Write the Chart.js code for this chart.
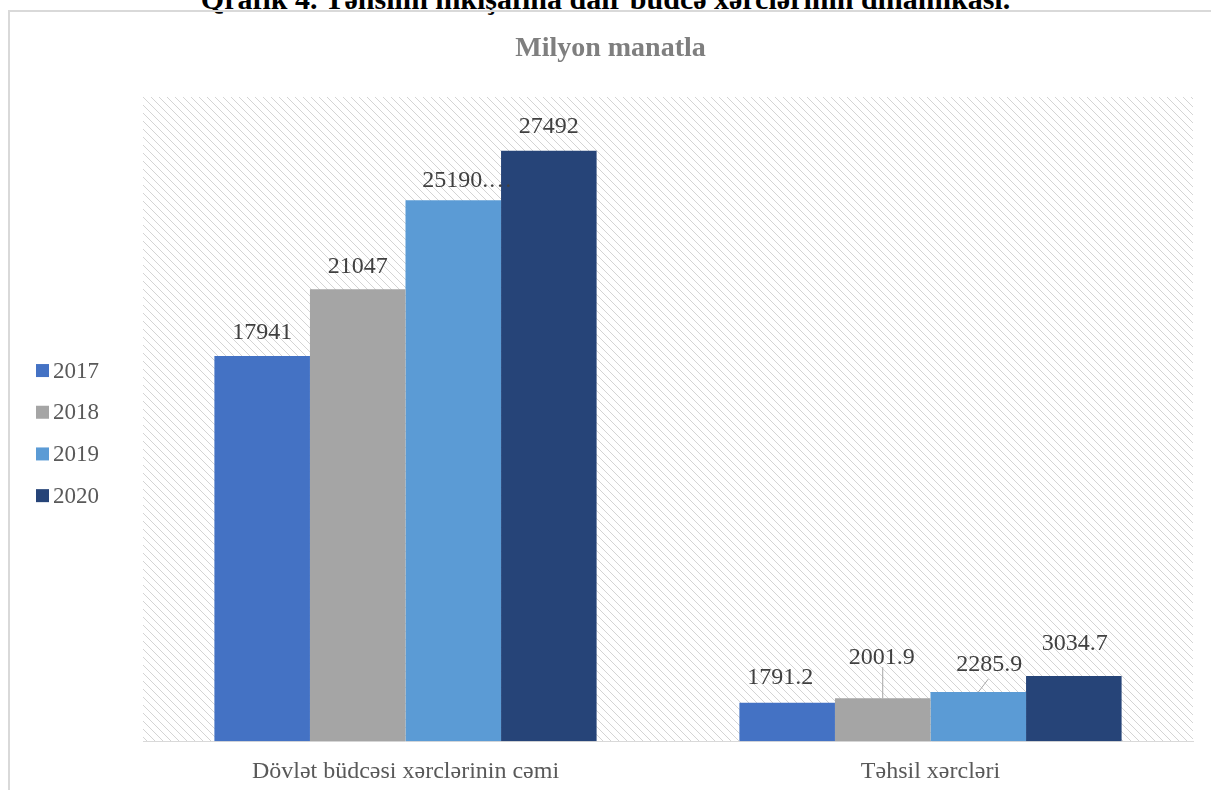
<!DOCTYPE html>
<html>
<head>
<meta charset="utf-8">
<script src="https://cdn.jsdelivr.net/npm/chart.js@4.4.1/dist/chart.umd.min.js"></script>
<style>
  body { margin: 0; background: #fff; width: 1211px; height: 790px; overflow: hidden; position: relative; }
  #heading { position: absolute; left: 0; width: 1211px; top: -16px; text-align: center;
    font: bold 30px/30px "Liberation Serif", serif; color: #000; white-space: nowrap; }
  #box { position: absolute; left: 8px; top: 10px; width: 1203px; height: 800px;
    border-top: 2px solid #d9d9d9; border-left: 2px solid #d9d9d9; }
  canvas { display: block; }
</style>
</head>
<body>
<div id="heading">Qrafik 4. Təhsilin inkişafına dair büdcə xərclərinin dinamikası.</div>
<div id="box"><canvas id="myChart" width="1201" height="782"></canvas></div>
<script>
// data
const chartTitle = 'Milyon manatla';
const categories = ['Dövlət büdcəsi xərclərinin cəmi', 'Təhsil xərcləri'];
const years = ['2017', '2018', '2019', '2020'];
const v2017 = [17941, 1791.2];
const v2018 = [21047, 2001.9];
const v2019 = [25190.8, 2285.9];
const v2020 = [27492, 3034.7];
const shownLabels = [
    ['17941', '1791.2'],
    ['21047', '2001.9'],
    ['25190.…', '2285.9'],
    ['27492', '3034.7']
];
const colors = ['#4472C4', '#A5A5A5', '#5B9BD5', '#264478'];

const serif = '"Liberation Serif", serif';

// hatched plot background
function hatch() {
    const c = document.createElement('canvas');
    c.width = 8; c.height = 8;
    const g = c.getContext('2d');
    g.strokeStyle = '#d4d4d4';
    g.lineWidth = 1;
    g.beginPath();
    g.moveTo(-1, -1); g.lineTo(9, 9);
    g.moveTo(-1, 7); g.lineTo(1, 9);
    g.moveTo(7, -1); g.lineTo(9, 1);
    g.stroke();
    return g.createPattern(c, 'repeat');
}

const backdrop = {
    id: 'backdrop',
    beforeDraw(chart) {
        const {ctx, chartArea: a} = chart;
        ctx.save();
        ctx.fillStyle = hatch();
        ctx.fillRect(a.left, a.top, a.right - a.left, a.bottom - a.top);
        ctx.restore();
    }
};

// title centred on the whole chart box, not on the padded area
const topTitle = {
    id: 'topTitle',
    afterDraw(chart) {
        const ctx = chart.ctx;
        ctx.save();
        ctx.font = 'bold 28px ' + serif;
        ctx.fillStyle = '#7f7f7f';
        ctx.textAlign = 'center';
        ctx.textBaseline = 'middle';
        ctx.fillText(chartTitle, chart.width / 2, 37);
        ctx.restore();
    }
};

// legend on the left, box close to the text like in Excel
const sideLegend = {
    id: 'sideLegend',
    afterDraw(chart) {
        const {ctx, chartArea: a} = chart;
        const mid = (a.top + a.bottom) / 2 + 14;
        ctx.save();
        ctx.font = '23px ' + serif;
        ctx.textBaseline = 'middle';
        ctx.textAlign = 'left';
        chart.data.datasets.forEach((ds, i) => {
            const y = mid + (i - 1.5) * 41.7;
            ctx.fillStyle = ds.backgroundColor;
            ctx.fillRect(26, y - 6.5, 13, 13);
            ctx.fillStyle = '#595959';
            ctx.fillText(ds.label, 43, y + 1);
        });
        ctx.restore();
    }
};

// value labels, two of them moved with a leader line
const barLabels = {
    id: 'barLabels',
    afterDatasetsDraw(chart) {
        const ctx = chart.ctx;
        const moved = {
            '0-1': [-7, -25], '1-1': [-1, -41], '2-1': [11, -27], '3-1': [1, -32],
            '2-0': [14, -20], '3-0': [0, -24]
        };
        ctx.save();
        ctx.font = '24px ' + serif;
        ctx.fillStyle = '#404040';
        ctx.textAlign = 'center';
        ctx.textBaseline = 'middle';
        chart.data.datasets.forEach((ds, i) => {
            chart.getDatasetMeta(i).data.forEach((bar, j) => {
                const off = moved[i + '-' + j] || [0, -23];
                const x = bar.x + off[0], y = bar.y + off[1];
                ctx.fillText(shownLabels[i][j], x, y);
                ctx.strokeStyle = '#a6a6a6';
                ctx.lineWidth = 1;
                if (i === 1 && j === 1) {
                    ctx.beginPath();
                    ctx.moveTo(bar.x, y + 10);
                    ctx.lineTo(bar.x, bar.y);
                    ctx.stroke();
                }
                if (i === 2 && j === 1) {
                    ctx.beginPath();
                    ctx.moveTo(x - 1, y + 14);
                    ctx.lineTo(bar.x, bar.y);
                    ctx.stroke();
                }
            });
        });
        ctx.restore();
    }
};

new Chart(document.getElementById('myChart'), {
    type: 'bar',
    data: {
        labels: categories,
        datasets: [v2017, v2018, v2019, v2020].map((d, i) => ({
            label: years[i],
            data: d,
            backgroundColor: colors[i],
            borderWidth: 0,
            categoryPercentage: 0.728,
            barPercentage: 1
        }))
    },
    options: {
        responsive: false,
        animation: false,
        devicePixelRatio: 1,
        layout: { padding: { left: 0, right: 18, top: 85, bottom: 0 } },
        plugins: {
            title: { display: false },
            legend: { display: false },
            tooltip: { enabled: false }
        },
        scales: {
            x: {
                grid: { display: false },
                border: { color: '#d9d9d9', width: 1 },
                ticks: {
                    color: '#595959',
                    padding: 8,
                    font: { family: serif, size: 24 }
                }
            },
            y: {
                min: 0,
                max: 30000,
                grid: { display: false },
                border: { display: false },
                ticks: { display: false },
                afterFit(scale) { scale.width = 133; }
            }
        }
    },
    plugins: [backdrop, barLabels, sideLegend, topTitle]
});
</script>
</body>
</html>
